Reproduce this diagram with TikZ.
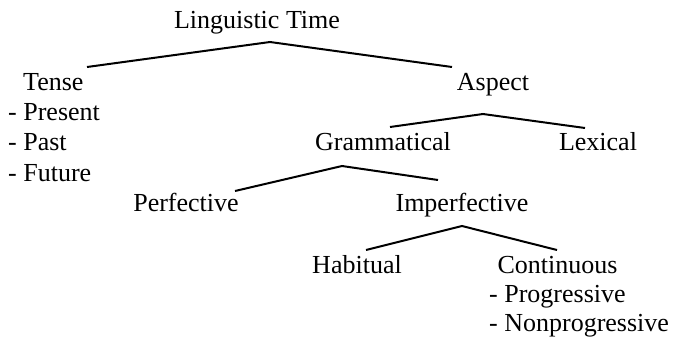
\documentclass[tikz,border=0pt]{standalone}
\usepackage{fontspec}
\setmainfont{Liberation Serif}
\begin{document}
\begin{tikzpicture}[x=1pt,y=-1pt,
  lbl/.style={inner sep=0pt,anchor=base,font=\fontsize{26}{30}\selectfont},
  lblw/.style={lbl,anchor=base west},
  branch/.style={line width=2pt,line join=miter}]
\useasboundingbox (0,0) rectangle (675,341);
% texts
\node[lbl] (lt) at (257,28) {Linguistic Time};
\node[lblw] (tense) at (23,90) {Tense};
\node[lblw] (present) at (8,120) {- Present};
\node[lblw] (past) at (8,150.5) {- Past};
\node[lblw] (future) at (8,181) {- Future};
\node[lbl] (aspect) at (493,90) {Aspect};
\node[lbl] (gram) at (383,150) {Grammatical};
\node[lbl] (lex) at (598,150) {Lexical};
\node[lbl] (perf) at (186,211.5) {Perfective};
\node[lbl] (imperf) at (462,211.5) {Imperfective};
\node[lbl] (hab) at (357,273) {Habitual};
\node[lbl] (cont) at (557.5,273) {Continuous};
\node[lblw] (prog) at (489,302) {- Progressive};
\node[lblw] (nonprog) at (489,331) {- Nonprogressive};
% branch points
\coordinate (ltA) at (270,42);
\coordinate (tenseE) at (87,67);
\coordinate (aspectE) at (452,67);
\coordinate (aspA) at (483,114);
\coordinate (gramE) at (390,127);
\coordinate (lexE) at (585,128);
\coordinate (gramA) at (342,166);
\coordinate (perfE) at (235,191);
\coordinate (imperfE) at (438,180);
\coordinate (imperfA) at (462,226);
\coordinate (habE) at (366,250);
\coordinate (contE) at (557,250);
% connectors
\draw[branch] (tenseE) -- (ltA) -- (aspectE);
\draw[branch] (gramE) -- (aspA) -- (lexE);
\draw[branch] (perfE) -- (gramA) -- (imperfE);
\draw[branch] (habE) -- (imperfA) -- (contE);
\end{tikzpicture}
\end{document}
